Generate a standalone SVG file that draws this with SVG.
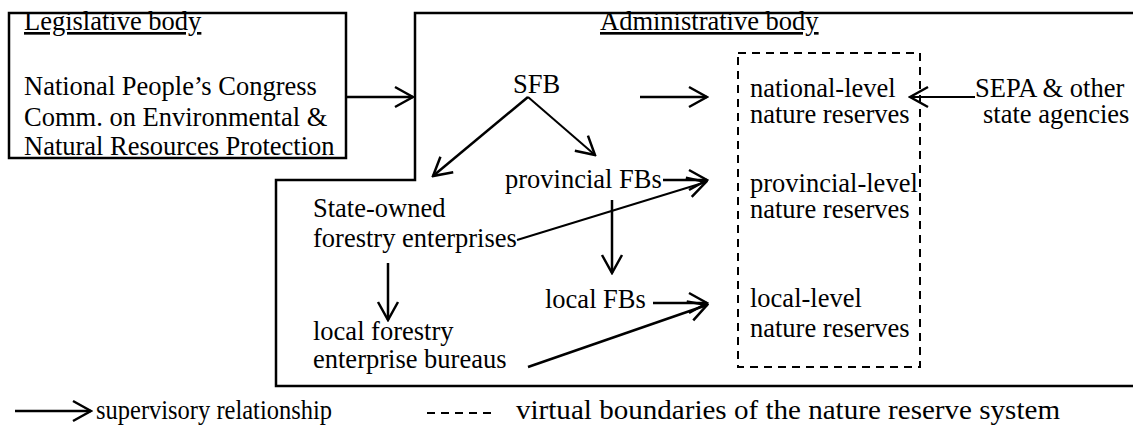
<svg xmlns="http://www.w3.org/2000/svg" width="1133" height="434" viewBox="0 0 1133 434">
<style>
text{font-family:'Liberation Serif','Times New Roman',Times,'DejaVu Serif',serif;font-size:26.5px;fill:#000}
.u{text-decoration:underline}
.box{fill:none;stroke:#000;stroke-width:2.5}
.dash{fill:none;stroke:#000;stroke-width:2;stroke-dasharray:8 6}
.c{fill:none;stroke:#000;stroke-width:2.5}
.t{fill:none;stroke:#000;stroke-width:2}
</style>
<defs>
<marker id="ah" viewBox="-22 -13 24 26" refX="0" refY="0" markerWidth="24" markerHeight="26" markerUnits="userSpaceOnUse" orient="auto">
<path d="M-18,-10 L0,0 L-18,10" fill="none" stroke="#000" stroke-width="2.5"/>
</marker>
</defs>
<rect width="1133" height="434" fill="#fff"/>
<g id="legislative">
<rect class="box" x="9" y="13" width="337" height="145"/>
<text class="u" x="24" y="30">Legislative body</text>
<text x="24" y="95">National People’s Congress</text>
<text x="24" y="126">Comm. on Environmental &amp;</text>
<text x="24" y="155">Natural Resources Protection</text>
</g>
<g id="administrative">
<path class="box" d="M1135,13 H415 V180 H276 V386 H1135"/>
<text class="u" x="600" y="30">Administrative body</text>
</g>
<g id="reserve-system">
<rect class="dash" x="738" y="53" width="182" height="314"/>
</g>
<g id="sfb"><text x="513" y="93">SFB</text></g>
<g id="national"><text x="750" y="97">national-level</text><text x="750" y="123">nature reserves</text></g>
<g id="sepa"><text x="975" y="97">SEPA &amp; other</text><text x="983" y="123">state agencies</text></g>
<g id="provincial-fb"><text x="505" y="188">provincial FBs</text></g>
<g id="provincial"><text x="750" y="192">provincial-level</text><text x="750" y="218">nature reserves</text></g>
<g id="state-owned"><text x="313" y="217">State-owned</text><text x="313" y="247">forestry enterprises</text></g>
<g id="local-fb"><text x="545" y="308">local FBs</text></g>
<g id="local"><text x="750" y="307">local-level</text><text x="750" y="337">nature reserves</text></g>
<g id="local-bureaus"><text x="313" y="340">local forestry</text><text x="313" y="368">enterprise bureaus</text></g>
<g id="connectors">
<line class="c" x1="346" y1="97" x2="413" y2="97" marker-end="url(#ah)"/>
<line class="c" x1="640" y1="97" x2="707" y2="97" marker-end="url(#ah)"/>
<line class="t" x1="975" y1="97" x2="910" y2="97" marker-end="url(#ah)"/>
<line class="c" x1="528" y1="97" x2="433" y2="176" marker-end="url(#ah)"/>
<line class="t" x1="528" y1="97" x2="595" y2="155" marker-end="url(#ah)"/>
<line class="c" x1="663" y1="180" x2="707" y2="180" marker-end="url(#ah)"/>
<line class="t" x1="517" y1="240" x2="706" y2="182" marker-end="url(#ah)"/>
<line class="c" x1="612" y1="200" x2="612" y2="273" marker-end="url(#ah)"/>
<line class="c" x1="388" y1="263" x2="388" y2="320" marker-end="url(#ah)"/>
<line class="c" x1="653" y1="303" x2="707" y2="303" marker-end="url(#ah)"/>
<line class="c" x1="528" y1="367" x2="707" y2="305" marker-end="url(#ah)"/>
</g>
<g id="legend">
<line class="c" x1="15" y1="411" x2="91" y2="411" marker-end="url(#ah)"/>
<text x="96" y="419" textLength="236" lengthAdjust="spacingAndGlyphs">supervisory relationship</text>
<line class="dash" x1="427" y1="413" x2="492" y2="413" stroke-width="2.5"/>
<text x="516" y="419" textLength="544" lengthAdjust="spacingAndGlyphs">virtual boundaries of the nature reserve system</text>
</g>
</svg>
